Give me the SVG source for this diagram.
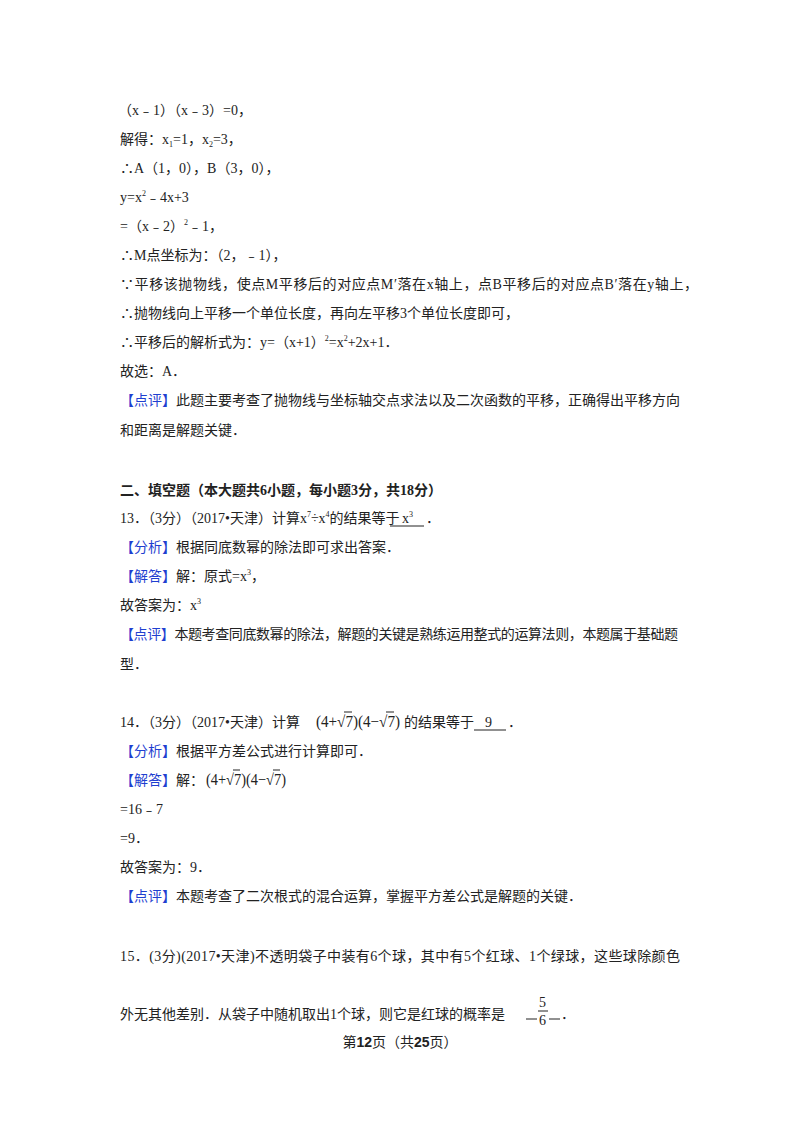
<svg xmlns="http://www.w3.org/2000/svg" width="800" height="1132" viewBox="0 0 800 1132">
<style>
text{font-family:"Liberation Serif","Noto Sans CJK SC",serif;font-size:14px;fill:#222}
.b{fill:#1f3fd0}
.h{font-weight:bold}
.s{font-size:8px}
.m{font-size:16px}
line{stroke:#222;stroke-width:1}
</style>
<rect width="800" height="1132" fill="#fff"/>
<g id="text">
<text x="118" y="115">（x﹣1）（x﹣3）=0，</text>
<text x="120" y="144">解得：x<tspan class="s" dy="3">1</tspan><tspan dy="-3">=1，x</tspan><tspan class="s" dy="3">2</tspan><tspan dy="-3">=3，</tspan></text>
<text x="120" y="173">∴A（1，0），B（3，0），</text>
<text x="120" y="202">y=x<tspan class="s" dy="-6">2</tspan><tspan dy="6">﹣4x+3</tspan></text>
<text x="120" y="231">=（x﹣2）<tspan class="s" dy="-6">2</tspan><tspan dy="6">﹣1，</tspan></text>
<text x="120" y="260">∴M点坐标为：（2，﹣1），</text>
<text x="120" y="289" textLength="578">∵平移该抛物线，使点M平移后的对应点M′落在x轴上，点B平移后的对应点B′落在y轴上，</text>
<text x="120" y="318">∴抛物线向上平移一个单位长度，再向左平移3个单位长度即可，</text>
<text x="120" y="347">∴平移后的解析式为：y=（x+1）<tspan class="s" dy="-6">2</tspan><tspan dy="6">=x</tspan><tspan class="s" dy="-6">2</tspan><tspan dy="6">+2x+1．</tspan></text>
<text x="120" y="376">故选：A．</text>
<text x="120" y="405" textLength="560"><tspan class="b">【点评】</tspan>此题主要考查了抛物线与坐标轴交点求法以及二次函数的平移，正确得出平移方向</text>
<text x="120" y="435">和距离是解题关键．</text>
<text x="120" y="495" class="h">二、填空题（本大题共6小题，每小题3分，共18分）</text>
<text x="120" y="523">13．（3分）（2017•天津）计算x<tspan class="s" dy="-6">7</tspan><tspan dy="6">÷x</tspan><tspan class="s" dy="-6">4</tspan><tspan dy="6">的结果等于</tspan></text>
<line x1="390" y1="526" x2="424" y2="526"/>
<text x="402" y="523">x<tspan class="s" dy="-6">3</tspan></text>
<text x="426" y="523">．</text>
<text x="120" y="552"><tspan class="b">【分析】</tspan>根据同底数幂的除法即可求出答案．</text>
<text x="120" y="581"><tspan class="b">【解答】</tspan>解：原式=x<tspan class="s" dy="-6">3</tspan><tspan dy="6">，</tspan></text>
<text x="120" y="610">故答案为：x<tspan class="s" dy="-6">3</tspan></text>
<text x="120" y="639" textLength="558"><tspan class="b">【点评】</tspan>本题考查同底数幂的除法，解题的关键是熟练运用整式的运算法则，本题属于基础题</text>
<text x="120" y="669">型．</text>
<text x="120" y="727">14．（3分）（2017•天津）计算</text>
<text x="316" y="727" class="m" textLength="84" lengthAdjust="spacingAndGlyphs">(4+√7)(4−√7)</text>
<line x1="344" y1="712" x2="352" y2="712"/><line x1="386" y1="712" x2="394" y2="712"/>
<text x="404" y="727">的结果等于</text>
<line x1="474" y1="730" x2="506" y2="730"/>
<text x="485" y="727">9</text>
<text x="508" y="727">．</text>
<text x="120" y="756"><tspan class="b">【分析】</tspan>根据平方差公式进行计算即可．</text>
<text x="120" y="785"><tspan class="b">【解答】</tspan>解：</text>
<text x="206" y="785" class="m" textLength="80" lengthAdjust="spacingAndGlyphs">(4+√7)(4−√7)</text>
<line x1="233" y1="770" x2="240" y2="770"/><line x1="273" y1="770" x2="280" y2="770"/>
<text x="120" y="814">=16﹣7</text>
<text x="120" y="843">=9．</text>
<text x="120" y="872">故答案为：9．</text>
<text x="120" y="901"><tspan class="b">【点评】</tspan>本题考查了二次根式的混合运算，掌握平方差公式是解题的关键．</text>
<text x="120" y="961" textLength="560">15．(3分)(2017•天津)不透明袋子中装有6个球，其中有5个红球、1个绿球，这些球除颜色</text>
<text x="120" y="1019">外无其他差别．从袋子中随机取出1个球，则它是红球的概率是</text>
<line x1="526" y1="1019" x2="537" y2="1019"/>
<text x="539" y="1007">5</text>
<line x1="538" y1="1011" x2="548" y2="1011"/>
<text x="539" y="1025">6</text>
<line x1="549" y1="1019" x2="560" y2="1019"/>
<text x="561" y="1019">．</text>
<text x="400" y="1047" text-anchor="middle">第<tspan class="h" style="font-family:'Liberation Sans',sans-serif">12</tspan>页（共<tspan class="h" style="font-family:'Liberation Sans',sans-serif">25</tspan>页）</text>
</g>
</svg>
